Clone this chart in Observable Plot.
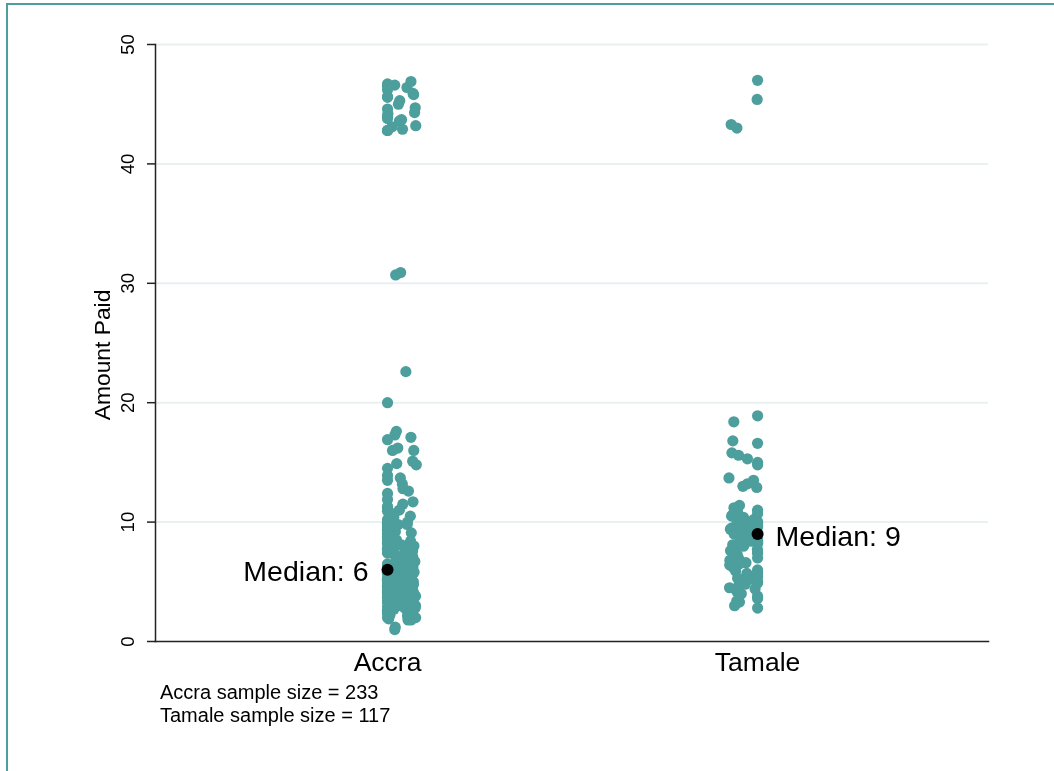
<!DOCTYPE html>
<html>
<head>
<meta charset="utf-8">
<script src="https://cdn.jsdelivr.net/npm/d3@7"></script>
<script src="https://cdn.jsdelivr.net/npm/@observablehq/plot@0.6"></script>
<style>
  html, body { margin: 0; padding: 0; background: #fff; overflow: hidden; }
  body { width: 1054px; height: 771px; position: relative; font-family: "Liberation Sans", Arial, sans-serif; }
  #frame { position: fixed; left: 6px; top: 3px; right: -20px; bottom: -20px;
           border-top: 2px solid #4c9f9c; border-left: 2px solid #4c9f9c; }
  #chart { position: absolute; left: 0; top: 0; }
  #notes { position: absolute; left: 160px; top: 681px; font-size: 20px; line-height: 22.5px; color: #000; }
</style>
</head>
<body>
<div id="frame"></div>
<div id="chart"></div>
<div id="notes"></div>
<script>
const categories = ["Accra", "Tamale"];
const yTicks = [0, 10, 20, 30, 40, 50];
const yTitle = "Amount Paid";

const accraPaid = [
  46.9, 46.7, 46.6, 46.5, 46.4, 46.2, 45.9, 45.8, 45.6, 45.6, 45.3, 45.0, 44.7, 44.6, 44.3, 44.2, 44.0, 43.8, 43.7, 43.6, 43.2, 43.1, 42.9, 42.8, 42.8,
  30.9, 30.7, 22.6, 20.0,
  17.6, 17.3, 17.1, 16.9, 16.2, 16.0, 16.0, 15.1, 14.9, 14.8, 14.5, 13.9, 13.7, 13.5, 13.2, 12.8, 12.6, 12.4,
  11.9, 11.7, 11.5, 11.3, 11.2, 11.0, 10.9, 10.7, 10.5, 10.4,
  10.2, 10.0, 10.0, 10.0, 9.9, 9.8, 9.8, 9.7, 9.6, 9.5,
  9.4, 9.3, 9.2, 9.1, 9.0, 9.0, 8.9, 8.8, 8.7, 8.6,
  8.5, 8.4, 8.3, 8.2, 8.1, 8.0, 8.0, 7.9, 7.8, 7.7,
  7.6, 7.5, 7.5, 7.4, 7.3, 7.2, 7.1, 7.0, 7.0, 6.9,
  6.8, 6.8, 6.7, 6.6, 6.5, 6.5, 6.4, 6.3, 6.2, 6.2,
  6.1, 6.1, 6.1, 6.1,
  6.0, 6.0, 6.0, 6.0, 6.0, 6.0, 6.0, 6.0,
  5.9, 5.9, 5.8, 5.8, 5.8, 5.7, 5.7, 5.6, 5.6, 5.6,
  5.5, 5.5, 5.5, 5.4, 5.4, 5.4, 5.3, 5.3, 5.3, 5.2,
  5.2, 5.2, 5.1, 5.1, 5.1, 5.0, 5.0, 5.0, 5.0, 5.0,
  4.9, 4.9, 4.9, 4.8, 4.8, 4.8, 4.7, 4.7, 4.7, 4.6,
  4.6, 4.6, 4.5, 4.5, 4.5, 4.4, 4.4, 4.4, 4.3, 4.3,
  4.3, 4.2, 4.2, 4.2, 4.1, 4.1, 4.0, 4.0, 4.0, 4.0,
  3.9, 3.9, 3.9, 3.8, 3.8, 3.8, 3.7, 3.7, 3.7, 3.6,
  3.6, 3.5, 3.5, 3.5, 3.4, 3.4, 3.3, 3.3, 3.2, 3.2,
  3.1, 3.1, 3.0, 3.0, 3.0, 2.9, 2.8, 2.8, 2.7, 2.6,
  2.6, 2.5, 2.5, 2.4, 2.3, 2.2, 2.1, 2.0, 1.9, 1.8,
  2.9, 2.4, 2.2, 2.0, 1.8, 1.2, 1.0, 3.3, 3.6, 4.4,
  5.0, 4.5, 4.0, 3.5
];

const tamalePaid = [
  47.0, 45.4, 43.3, 43.0,
  18.9, 18.4, 16.8, 16.6, 15.8, 15.6, 15.3, 15.0, 14.8, 13.7, 13.5, 13.2, 13.0, 12.9,
  11.4, 11.2, 11.0, 10.9, 10.8, 10.7, 10.6, 10.5, 10.4, 10.3,
  10.2, 10.1, 10.0, 10.0, 10.0, 9.9, 9.9, 9.8, 9.8, 9.7,
  9.7, 9.6, 9.6, 9.5, 9.5, 9.5, 9.4, 9.4, 9.3, 9.3,
  9.2, 9.2, 9.2, 9.1, 9.1, 9.1, 9.1,
  9.0, 9.0, 9.0, 9.0, 9.0, 9.0,
  8.9, 8.9, 8.8, 8.8, 8.7, 8.7, 8.6, 8.6, 8.5, 8.5,
  8.4, 8.4, 8.3, 8.2, 8.1, 8.0, 8.0, 7.9, 7.8, 7.7,
  7.6, 7.5, 7.4, 7.3, 7.2, 7.0, 7.0, 6.9, 6.8, 6.6,
  6.5, 6.4, 6.2, 6.0, 5.9, 5.8, 5.7, 5.6, 5.5, 5.4,
  5.3, 5.2, 5.0, 4.9, 4.8, 4.6, 4.5, 4.4, 4.2, 4.0,
  3.8, 3.6, 3.4, 3.3, 3.0, 2.8
];

const series = [accraPaid, tamalePaid];
const teal = "#4c9f9c";

// Build point table; jitter is purely presentational (one-sided, as in the reference)
const rng = d3.randomLcg(0.4217);
const points = [];
series.forEach((vals, ci) => {
  const dir = ci === 0 ? 1 : -1;
  vals.forEach(v => {
    const j = rng() < 0.3 ? 0 : rng() * 0.078;
    points.push({cat: ci, pos: ci + dir * j, value: v});
  });
});
const medians = series.map((vals, ci) => ({cat: ci, value: d3.median(vals)}));

const font = "'Liberation Sans', Arial, Helvetica, sans-serif";

const chart = Plot.plot({
  width: 1054,
  height: 680,
  marginLeft: 155,
  marginRight: 66,
  marginTop: 44,
  marginBottom: 39,
  x: {type: "linear", domain: [-0.627, 1.624], axis: null},
  y: {domain: [0, 50], axis: null},
  style: {fontFamily: font, background: "transparent", overflow: "visible", color: "#000"},
  marks: [
    Plot.gridY(yTicks.filter(t => t > 0), {stroke: "#e8f0f2", strokeOpacity: 1, strokeWidth: 2}),
    Plot.axisY({ticks: yTicks, tickSize: 8, tickFormat: () => "", label: null, stroke: "#222", strokeWidth: 1.5}),
    Plot.frame({anchor: "left", stroke: "#222", strokeWidth: 1.5}),
    Plot.frame({anchor: "bottom", stroke: "#222", strokeWidth: 1.5}),
    Plot.text(yTicks, {y: d => d, text: d => String(d), frameAnchor: "left", dx: -27, rotate: -90,
      textAnchor: "middle", lineAnchor: "middle", fontSize: 18.5, fill: "#000"}),
    Plot.text([yTitle], {y: 24, text: d => d, frameAnchor: "left", dx: -53, rotate: -90,
      textAnchor: "middle", lineAnchor: "middle", fontSize: 22.8, fill: "#000"}),
    Plot.text(categories, {x: (d, i) => i, text: d => d, frameAnchor: "bottom", dy: 21,
      lineAnchor: "middle", textAnchor: "middle", fontSize: 26.5, fill: "#000"}),
    Plot.dot(points, {x: "pos", y: "value", r: 5.6, fill: teal, stroke: "none"}),
    Plot.dot(medians, {x: "cat", y: "value", r: 6, fill: "#000", stroke: "none"}),
    Plot.text(medians.filter(d => d.cat === 0), {x: "cat", y: "value", text: d => "Median: " + d.value,
      textAnchor: "end", lineAnchor: "middle", dx: -19, dy: 2, fontSize: 28.5, fill: "#000"}),
    Plot.text(medians.filter(d => d.cat === 1), {x: "cat", y: "value", text: d => "Median: " + d.value,
      textAnchor: "start", lineAnchor: "middle", dx: 18, dy: 3, fontSize: 28.5, fill: "#000"})
  ]
});
document.getElementById("chart").appendChild(chart);

document.getElementById("notes").innerHTML =
  `<div>${categories[0]} sample size = ${accraPaid.length}</div>` +
  `<div>${categories[1]} sample size = ${tamalePaid.length}</div>`;
</script>
</body>
</html>
